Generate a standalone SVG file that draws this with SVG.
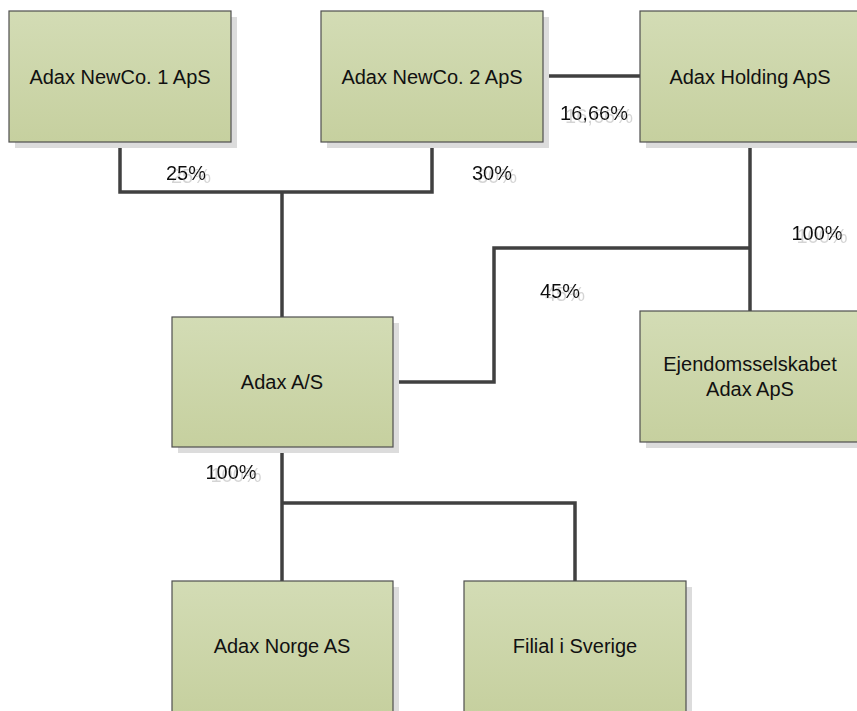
<svg xmlns="http://www.w3.org/2000/svg" width="857" height="711" viewBox="0 0 857 711">
<defs>
<linearGradient id="g" x1="0" y1="0" x2="0" y2="1">
<stop offset="0" stop-color="#d3dcb5"/>
<stop offset="1" stop-color="#c6d09f"/>
</linearGradient>
<filter id="ghost" x="-10%" y="-20%" width="130%" height="150%">
<feOffset in="SourceAlpha" dx="5" dy="3" result="o"/>
<feFlood flood-color="#d4d4d4"/>
<feComposite in2="o" operator="in" result="s"/>
<feMerge><feMergeNode in="s"/><feMergeNode in="SourceGraphic"/></feMerge>
</filter>
<style>
.sh{fill:#dcdcdc}
.bx{fill:url(#g);stroke:#4f4f4f;stroke-width:1.2}
.t{font-family:"Liberation Sans",Arial,sans-serif;font-size:20px;fill:#111;text-anchor:middle}
.lb{font-family:"Liberation Sans",Arial,sans-serif;font-size:20px;fill:#111;text-anchor:middle;filter:url(#ghost)}
.c{fill:none;stroke:#404040;stroke-width:3.5;stroke-linejoin:miter;stroke-linecap:butt}
</style>
</defs>
<rect width="857" height="711" fill="#fff"/>
<g id="connectors">
<path class="c" d="M120,142 V192 H432 V142"/>
<path class="c" d="M282,192 V317"/>
<path class="c" d="M543,76 H640"/>
<path class="c" d="M750,142 V311"/>
<path class="c" d="M750,248 H494 V382 H393"/>
<path class="c" d="M282,447 V581"/>
<path class="c" d="M282,503 H575 V581"/>
</g>
<g id="labels">
<text class="lb" x="186" y="180">25%</text>
<text class="lb" x="492" y="180">30%</text>
<text class="lb" x="594" y="120">16,66%</text>
<text class="lb" x="817" y="240">100%</text>
<text class="lb" x="560" y="298">45%</text>
<text class="lb" x="231" y="479">100%</text>
</g>
<g id="n1"><rect class="sh" x="15" y="17" width="222" height="131"/><rect class="bx" x="9" y="11" width="222" height="131"/><text class="t" x="120" y="84">Adax NewCo. 1 ApS</text></g>
<g id="n2"><rect class="sh" x="327" y="17" width="222" height="131"/><rect class="bx" x="321" y="11" width="222" height="131"/><text class="t" x="432" y="84">Adax NewCo. 2 ApS</text></g>
<g id="n3"><rect class="sh" x="646" y="17" width="222" height="131"/><rect class="bx" x="640" y="11" width="222" height="131"/><text class="t" x="750" y="84">Adax Holding ApS</text></g>
<g id="n4"><rect class="sh" x="178" y="323" width="221" height="130"/><rect class="bx" x="172" y="317" width="221" height="130"/><text class="t" x="282" y="389">Adax A/S</text></g>
<g id="n5"><rect class="sh" x="646" y="317" width="222" height="131"/><rect class="bx" x="640" y="311" width="222" height="131"/><text class="t" x="750" y="371">Ejendomsselskabet</text><text class="t" x="750" y="396">Adax ApS</text></g>
<g id="n6"><rect class="sh" x="178" y="587" width="221" height="131"/><rect class="bx" x="172" y="581" width="221" height="131"/><text class="t" x="282" y="653">Adax Norge AS</text></g>
<g id="n7"><rect class="sh" x="470" y="587" width="222" height="131"/><rect class="bx" x="464" y="581" width="222" height="131"/><text class="t" x="575" y="653">Filial i Sverige</text></g>
</svg>
